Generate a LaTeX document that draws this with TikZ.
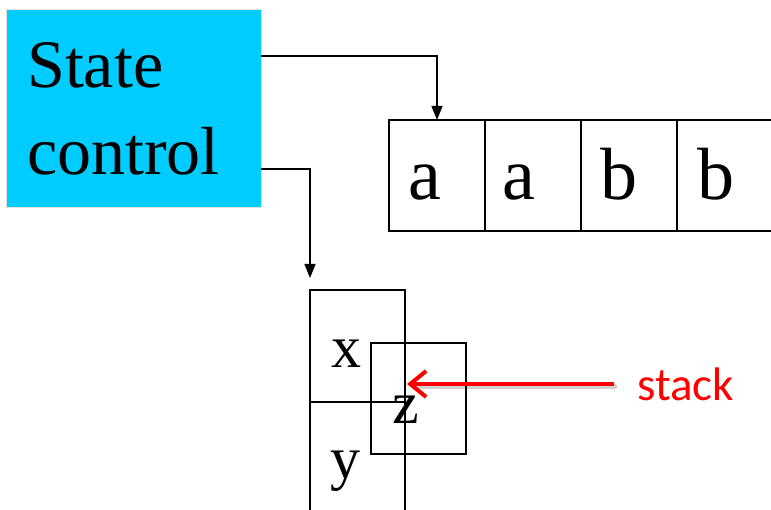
\documentclass[tikz,border=0pt]{standalone}
\usepackage{fontspec}
\setmainfont{Liberation Serif}
\newfontfamily\calibrifont{Carlito}
\usetikzlibrary{arrows.meta,calc}
\definecolor{scblue}{HTML}{00CCFF}
\definecolor{scedge}{HTML}{E6E2D6}
\tikzset{
  cellbox/.style={draw=black,line width=1.4pt,minimum width=96pt,minimum height=111pt,inner sep=0pt,outer sep=0pt},
  bigtext/.style={font=\fontsize{68}{70}\selectfont,inner sep=0pt,anchor=base west},
  tapeletter/.style={font=\fontsize{74}{76}\selectfont,inner sep=0pt,anchor=base},
  stackletter/.style={font=\fontsize{60}{62}\selectfont,inner sep=0pt,anchor=base},
  ctrl/.style={draw=black,line width=1.3pt,-{Triangle[length=14pt,width=11pt]}},
}
\begin{document}
\begin{tikzpicture}[x=1pt,y=-1pt]
\useasboundingbox (0,0) rectangle (771,510);
% state control box
\node[fill=scblue,draw=scedge,line width=1pt,minimum width=255pt,minimum height=198pt,inner sep=0pt,outer sep=0pt] (sc) at (133.5,109) {};
\node[bigtext] (st) at (27,88) {State};
\node[bigtext] (ct) at (27,175) {control};
% tape
\node[cellbox] (c1) at (437,175.5) {};
\node[cellbox] (c2) at (533,175.5) {};
\node[cellbox] (c3) at (629,175.5) {};
\node[cellbox] (c4) at (725,175.5) {};
\node[tapeletter] (l1) at ($(c1.south)+(-12,-31)$) {a};
\node[tapeletter] (l2) at ($(c2.south)+(-14,-31)$) {a};
\node[tapeletter] (l3) at ($(c3.south)+(-10,-31)$) {b};
\node[tapeletter] (l4) at ($(c4.south)+(-9,-31)$) {b};
% stack
\node[cellbox,minimum width=95pt,minimum height=112pt] (sx) at (357.5,346) {};
\node[cellbox,minimum width=95pt,minimum height=112pt] (sy) at (357.5,458) {};
\node[cellbox,minimum width=95pt,minimum height=111pt] (sz) at (418.5,398.5) {};
\node[stackletter] (lx) at ($(sx.south)+(-11,-34)$) {x};
\node[stackletter] (ly) at ($(sy.north)+(-12,76)$) {y};
\node[stackletter] (lz) at ($(sz.north)+(-13,80)$) {z};
% control arrows
\coordinate (o1) at ($(sc.north east)+(0,46)$);
\coordinate (o2) at ($(sc.north east)+(0,159)$);
\coordinate (t2) at ($(sx.north west)+(0,-12)$);
\draw[ctrl] (o1) -| (c1.north);
\draw[ctrl] (o2) -| (t2);
% stack pointer
\node[font=\calibrifont\fontsize{47}{49}\selectfont,text=red,inner sep=0pt,anchor=base west] (stk) at (637,400) {stack};
\coordinate (a0) at (614,384);
\coordinate (a1) at (407,384);
\draw[black,opacity=0.18,line width=5pt,line cap=round] ($(a0)+(1,3)$) -- ($(a1)+(8,3)$);
\draw[red,line width=4pt,-{Straight Barb[length=16pt,width=26pt]}] (a0) -- (a1);
\end{tikzpicture}
\end{document}
